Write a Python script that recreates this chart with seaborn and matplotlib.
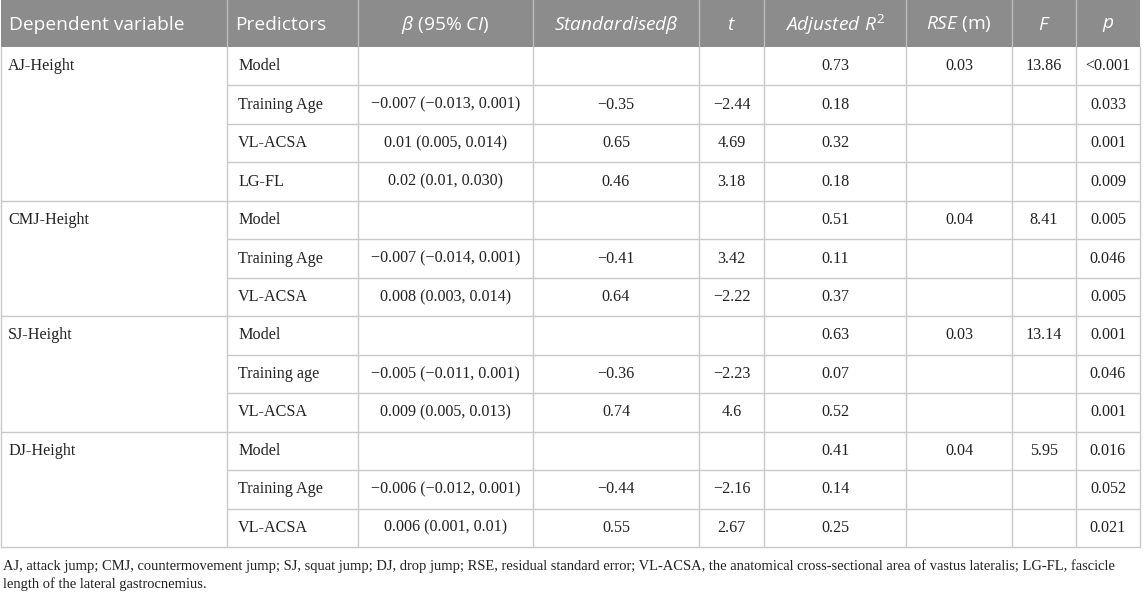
import numpy as np
import pandas as pd
import seaborn as sns
import matplotlib.pyplot as plt

# table content
dep_vars = ["AJ-Height", "CMJ-Height", "SJ-Height", "DJ-Height"]
group_sizes = [4, 3, 3, 3]
predictors = ["Model", "Training Age", "VL-ACSA", "LG-FL",
              "Model", "Training Age", "VL-ACSA",
              "Model", "Training age", "VL-ACSA",
              "Model", "Training Age", "VL-ACSA"]
betas = ["", "\u22120.007 (\u22120.013, 0.001)", "0.01 (0.005, 0.014)", "0.02 (0.01, 0.030)",
         "", "\u22120.007 (\u22120.014, 0.001)", "0.008 (0.003, 0.014)",
         "", "\u22120.005 (\u22120.011, 0.001)", "0.009 (0.005, 0.013)",
         "", "\u22120.006 (\u22120.012, 0.001)", "0.006 (0.001, 0.01)"]
std_betas = ["", "\u22120.35", "0.65", "0.46",
             "", "\u22120.41", "0.64",
             "", "\u22120.36", "0.74",
             "", "\u22120.44", "0.55"]
t_vals = ["", "\u22122.44", "4.69", "3.18",
          "", "3.42", "\u22122.22",
          "", "\u22122.23", "4.6",
          "", "\u22122.16", "2.67"]
adj_r2 = ["0.73", "0.18", "0.32", "0.18",
          "0.51", "0.11", "0.37",
          "0.63", "0.07", "0.52",
          "0.41", "0.14", "0.25"]
rse = ["0.03", "", "", "",
       "0.04", "", "",
       "0.03", "", "",
       "0.04", "", ""]
f_vals = ["13.86", "", "", "",
          "8.41", "", "",
          "13.14", "", "",
          "5.95", "", ""]
p_vals = ["<0.001", "0.033", "0.001", "0.009",
          "0.005", "0.046", "0.005",
          "0.001", "0.046", "0.001",
          "0.016", "0.052", "0.021"]
headers = ["Dependent variable", "Predictors", r"$\beta$ (95% $CI$)", r"$Standardised\beta$",
           r"$t$", r"$Adjusted\ R^2$", r"$RSE$ (m)", r"$F$", r"$p$"]
footnote = ["AJ, attack jump; CMJ, countermovement jump; SJ, squat jump; DJ, drop jump; RSE, residual "
            "standard error; VL-ACSA, the anatomical cross-sectional area of vastus lateralis; LG-FL, fascicle",
            "length of the lateral gastrocnemius."]

sns.set_theme(style="white")
plt.rcParams["mathtext.fontset"] = "custom"
plt.rcParams["mathtext.rm"] = "Open Sans"
plt.rcParams["mathtext.it"] = "Open Sans:italic"

df = pd.DataFrame({"pred": predictors, "beta": betas, "std": std_betas, "t": t_vals,
                   "r2": adj_r2, "rse": rse, "f": f_vals, "p": p_vals})

W, H = 1145, 594
fig = plt.figure(figsize=(W / 100, H / 100), dpi=100)
ax = fig.add_axes([0, 0, 1, 1])
ax.set_xlim(0, W)
ax.set_ylim(H, 0)
ax.axis("off")

col_edges = [1, 227, 358, 533, 699, 764, 906, 1012, 1076, 1140]
head_h = 47
bottom = 547
n_rows = len(df)
row_h = (bottom - head_h) / n_rows
line_c = "#c9c9c9"
text_c = "#222222"
body_fs = 11.6

# header
ax.add_patch(plt.Rectangle((col_edges[0], 0), col_edges[-1] - col_edges[0], head_h,
                           color="#8c8c8c", lw=0))
for i, h in enumerate(headers):
    if i < 2:
        ax.text(col_edges[i] + 8, head_h / 2 + 1, h, ha="left", va="center", color="white",
                fontsize=13.8, family="Open Sans")
    else:
        ax.text((col_edges[i] + col_edges[i + 1]) / 2, head_h / 2 + 1, h, ha="center", va="center",
                color="white", fontsize=13.8, family="Open Sans")
for x in col_edges[1:-1]:
    ax.plot([x, x], [0, head_h], color="#bdbdbd", lw=1)

# body
cols = ["pred", "beta", "std", "t", "r2", "rse", "f", "p"]
for r in range(n_rows):
    yc = head_h + (r + 0.5) * row_h
    for j, c in enumerate(cols):
        val = df.loc[r, c]
        if not val:
            continue
        if j == 0:
            ax.text(col_edges[1] + 11, yc, val, ha="left", va="center", color=text_c,
                    fontsize=body_fs, family="Liberation Serif")
        else:
            ax.text((col_edges[j + 1] + col_edges[j + 2]) / 2, yc, val, ha="center", va="center",
                    color=text_c, fontsize=body_fs, family="Liberation Serif")

start = 0
group_starts = []
for name, n in zip(dep_vars, group_sizes):
    group_starts.append(start)
    ax.text(col_edges[0] + 7, head_h + (start + 0.5) * row_h, name, ha="left", va="center",
            color=text_c, fontsize=body_fs, family="Liberation Serif")
    start += n

for r in range(1, n_rows):
    y = head_h + r * row_h
    x0 = col_edges[0] if r in group_starts else col_edges[1]
    ax.plot([x0, col_edges[-1]], [y, y], color=line_c, lw=1)
ax.plot([col_edges[0], col_edges[-1]], [bottom, bottom], color=line_c, lw=1)
for x in col_edges:
    ax.plot([x, x], [head_h, bottom], color=line_c, lw=1)

# footnote
for k, line in enumerate(footnote):
    ax.text(3, 566 + k * 18, line, ha="left", va="center", color=text_c,
            fontsize=10.45, family="Liberation Serif")

fig.savefig("out.png", dpi=100)
